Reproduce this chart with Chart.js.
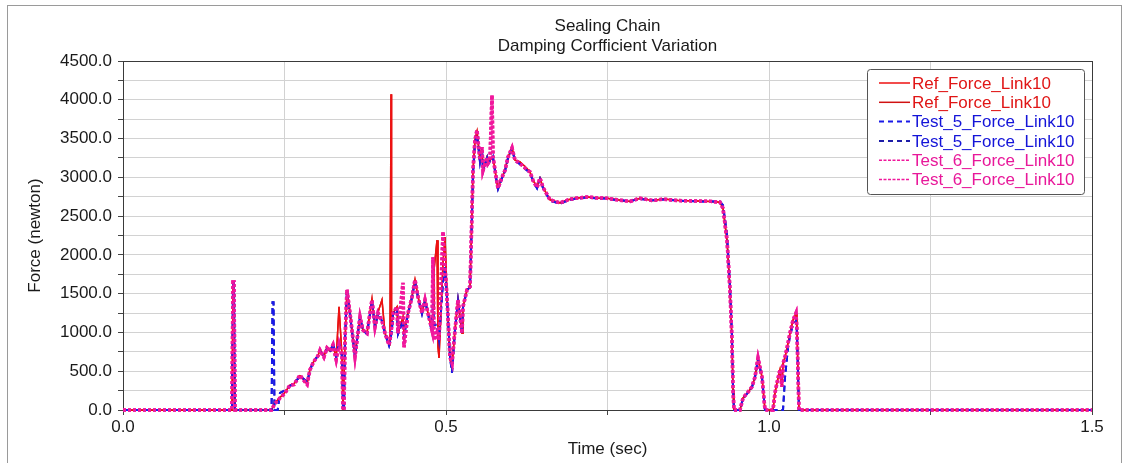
<!DOCTYPE html>
<html>
<head>
<meta charset="utf-8">
<script src="https://cdn.jsdelivr.net/npm/chart.js@4.4.1/dist/chart.umd.min.js"></script>
<style>
  html, body { margin: 0; padding: 0; background: #fff; }
  #caja { position: relative; width: 1130px; height: 463px; }
</style>
</head>
<body>
<div id="caja"><canvas id="grafico"></canvas></div>
<script>
// tiempo (sec) comun a las tres series
const tiempo = [
  0, 0.1687, 0.1703, 0.1718, 0.1734,
  0.2300, 0.2315, 0.2330, 0.2345, 0.2395, 0.2430, 0.2500, 0.2585, 0.2650, 0.2740,
  0.2800, 0.2850, 0.2895, 0.2950, 0.3019, 0.3050, 0.3110, 0.3158, 0.3204, 0.3251,
  0.3300, 0.3344, 0.3390, 0.3406, 0.3421, 0.3437, 0.3467, 0.3514, 0.3591, 0.3669,
  0.3715, 0.3777, 0.3854, 0.3901, 0.3947, 0.4009, 0.4056, 0.4118, 0.4133, 0.4149,
  0.4152, 0.4155, 0.4164, 0.4180, 0.4241, 0.4257, 0.4334, 0.4350, 0.4412, 0.4474,
  0.4520, 0.4567, 0.4628, 0.4675, 0.4721, 0.4783, 0.4799, 0.4814, 0.4861, 0.4876,
  0.4892, 0.4954, 0.4985, 0.5015, 0.5062, 0.5093, 0.5139, 0.5186, 0.5248, 0.5263,
  0.5325, 0.5372, 0.5402, 0.5418, 0.5449, 0.5480, 0.5526, 0.5557, 0.5573, 0.5635,
  0.5650, 0.5681, 0.5712, 0.5728, 0.5789, 0.5805, 0.5867, 0.5913, 0.5960, 0.6022,
  0.6068, 0.6146, 0.6223, 0.6300, 0.6347, 0.6409, 0.6455, 0.6502, 0.6610, 0.6765,
  0.6889, 0.7000, 0.7183, 0.7350, 0.7492, 0.7650, 0.7848, 0.8003, 0.8200, 0.8359,
  0.8600, 0.8885, 0.9100, 0.9241, 0.9288, 0.9350, 0.9396, 0.9427, 0.9443, 0.9458,
  0.9551, 0.9598, 0.9675, 0.9737, 0.9783, 0.9830, 0.9892, 0.9938, 1.0062, 1.0093,
  1.0124, 1.0170, 1.0201, 1.0217, 1.0248, 1.0294, 1.0325, 1.0372, 1.0418, 1.0433, 1.0464, 1.5
];

const fuerzaRef = [
  0, 0, 1640, 1640, 0,
  0, 30, 60, 90, 130, 160, 220, 320, 340, 440,
  390, 340, 530, 620, 700, 780, 690, 810, 760, 850,
  660, 1330, 700, 0, 0, 880, 1540, 1260, 700, 1190,
  1030, 990, 1430, 1060, 1260, 1420, 990, 840, 900, 4070,
  3300, 2480, 1100, 1250, 1330, 990, 1200, 1000, 1260, 1460,
  1680, 1460, 1250, 1420, 1250, 1030, 1300, 1800, 2190, 810,
  670, 1900, 2230, 1460, 650, 560, 1030, 1420, 990, 1330,
  1550, 1590, 2540, 3090, 3480, 3590, 3220, 3390, 3090, 3260,
  3180, 3220, 3250, 3260, 2930, 2860, 3000, 3090, 3260, 3380,
  3220, 3200, 3140, 3070, 2960, 2880, 2990, 2870, 2710, 2670,
  2710, 2730, 2745, 2735, 2730, 2710, 2690, 2730, 2700, 2720,
  2700, 2695, 2690, 2680, 2600, 2190, 1550, 900, 260, 0,
  0, 155, 230, 300, 425, 670, 425, 0, 0, 220,
  350, 520, 300, 600, 680, 860, 990, 1160, 1240, 1030, 0, 0
];

const fuerzaTest5 = [
  0, 0, 1660, 1660, 0,
  0, 1390, 1390, 0, 0, 220, 250, 310, 350, 430,
  400, 360, 510, 640, 690, 760, 700, 790, 740, 860,
  680, 880, 690, 0, 0, 920, 1540, 1230, 690, 1200,
  1030, 980, 1410, 1070, 1240, 1150, 980, 830, 880, 950,
  980, 1000, 1050, 1240, 1300, 980, 1150, 950, 1240, 1450,
  1660, 1450, 1240, 1410, 1240, 1000, 1400, 1100, 1100, 1000,
  900, 1650, 1840, 1450, 680, 480, 1030, 1410, 990, 1320,
  1550, 1580, 2500, 3050, 3440, 3560, 3200, 3370, 3080, 3250,
  3170, 3210, 3200, 3250, 2920, 2850, 2990, 3080, 3250, 3370,
  3210, 3170, 3110, 3060, 2950, 2860, 2980, 2860, 2700, 2660,
  2705, 2725, 2740, 2730, 2725, 2705, 2695, 2720, 2705, 2715,
  2700, 2690, 2690, 2685, 2640, 2260, 1600, 950, 300, 0,
  0, 150, 225, 295, 420, 660, 420, 0, 0, 0,
  0, 0, 0, 0, 420, 800, 960, 1100, 1150, 1000, 0, 0
];

const fuerzaTest6 = [
  0, 0, 1650, 1650, 0,
  0, 20, 50, 80, 120, 155, 210, 320, 330, 450,
  380, 330, 520, 620, 700, 770, 680, 800, 760, 840,
  650, 850, 700, 0, 0, 900, 1550, 1250, 690, 1200,
  1030, 990, 1420, 1070, 1250, 1150, 990, 840, 900, 1000,
  1020, 1050, 1100, 1250, 1330, 990, 1640, 810, 1250, 1460,
  1680, 1460, 1250, 1420, 1250, 1030, 1970, 900, 1000, 950,
  900, 2300, 1840, 1460, 680, 600, 1030, 1420, 990, 1330,
  1550, 1590, 2540, 3090, 3480, 3610, 3220, 3390, 3090, 3260,
  3180, 3220, 4060, 3260, 2930, 2860, 3000, 3090, 3260, 3380,
  3220, 3180, 3120, 3070, 2960, 2870, 2990, 2870, 2710, 2670,
  2710, 2730, 2745, 2735, 2730, 2710, 2690, 2730, 2700, 2720,
  2700, 2695, 2690, 2680, 2600, 2190, 1550, 900, 260, 0,
  0, 155, 230, 300, 425, 670, 425, 0, 0, 220,
  350, 520, 300, 600, 680, 860, 990, 1160, 1250, 1030, 0, 0
];

const nombres = ["Ref_Force_Link10", "Ref_Force_Link10", "Test_5_Force_Link10",
                 "Test_5_Force_Link10", "Test_6_Force_Link10", "Test_6_Force_Link10"];

const FUENTE = "'Liberation Sans', Arial, sans-serif";

function puntos(valores) {
  return tiempo.map((t, i) => ({ x: t, y: valores[i] }));
}

// estilo de cada curva: color, grosor, trazo, color del texto de la leyenda
const estilos = [
  { serie: fuerzaRef,   color: "#ee1111", ancho: 1.5, trazo: [],     orden: 2, leyTrazo: [],     leyAncho: 1.5, texto: "#e01515" },
  { serie: fuerzaRef,   color: "#d01212", ancho: 1.5, trazo: [],     orden: 3, leyTrazo: [],     leyAncho: 1.5, texto: "#e01515" },
  { serie: fuerzaTest5, color: "#1a1ae8", ancho: 2,   trazo: [6, 4], orden: 1, leyTrazo: [5, 4], leyAncho: 2,   texto: "#1414d8" },
  { serie: fuerzaTest5, color: "#1c1ca8", ancho: 2,   trazo: [6, 4], orden: 4, leyTrazo: [5, 4], leyAncho: 2,   texto: "#1414d8" },
  { serie: fuerzaTest6, color: "#f0189c", ancho: 3.5, trazo: [3, 2], orden: 0, leyTrazo: [3, 1.5], leyAncho: 1.5, texto: "#e8189a" },
  { serie: fuerzaTest6, color: "#f0189c", ancho: 3.5, trazo: [3, 2], orden: 5, leyTrazo: [3, 1.5], leyAncho: 1.5, texto: "#e8189a" }
];

// marco exterior + marco del area de trazado
const marco = {
  id: "marco",
  beforeDraw(chart) {
    const ctx = chart.ctx;
    ctx.save();
    ctx.fillStyle = "#fff";
    ctx.fillRect(0, 0, chart.width, chart.height);
    ctx.strokeStyle = "#9a9a9a";
    ctx.lineWidth = 1;
    ctx.strokeRect(7.5, 5.5, 1114, 470);
    ctx.restore();
  },
  beforeDatasetsDraw(chart) {
    const { ctx, chartArea: a } = chart;
    ctx.save();
    ctx.strokeStyle = "#3a3a3a";
    ctx.lineWidth = 1;
    ctx.strokeRect(Math.round(a.left) + 0.5, Math.round(a.top) + 0.5,
                   Math.round(a.right - a.left), Math.round(a.bottom - a.top));
    ctx.restore();
  }
};

const leyenda = {
  id: "leyenda",
  afterDraw(chart) {
    const { ctx, chartArea } = chart;
    const w = 217, h = 125;
    const x0 = Math.round(chartArea.right) - 8 - w;
    const y0 = Math.round(chartArea.top) + 8;
    ctx.save();
    ctx.fillStyle = "#fff";
    ctx.strokeStyle = "#555";
    ctx.lineWidth = 1;
    ctx.beginPath();
    ctx.roundRect(x0 + 0.5, y0 + 0.5, w, h, 3);
    ctx.fill();
    ctx.stroke();
    ctx.font = "17px " + FUENTE;
    ctx.textBaseline = "middle";
    chart.data.datasets.forEach((ds, i) => {
      const e = estilos[i];
      const y = y0 + 14 + i * 19.3;
      ctx.strokeStyle = e.color;
      ctx.lineWidth = e.leyAncho;
      ctx.setLineDash(e.leyTrazo);
      ctx.beginPath();
      ctx.moveTo(x0 + 12, y);
      ctx.lineTo(x0 + 43, y);
      ctx.stroke();
      ctx.setLineDash([]);
      ctx.fillStyle = e.texto;
      ctx.fillText(ds.label, x0 + 45, y + 1);
    });
    ctx.restore();
  }
};

new Chart(document.getElementById("grafico"), {
  type: "line",
  data: {
    datasets: estilos.map((e, i) => ({
      label: nombres[i],
      data: puntos(e.serie),
      borderColor: e.color,
      borderWidth: e.ancho,
      borderDash: e.trazo,
      order: e.orden,
      pointRadius: 0,
      tension: 0,
      fill: false,
      clip: 4
    }))
  },
  options: {
    responsive: true,
    maintainAspectRatio: false,
    animation: false,
    events: [],
    layout: { padding: { left: 23, right: 38, top: 0, bottom: 0 } },
    plugins: {
      legend: { display: false },
      tooltip: { enabled: false },
      title: {
        display: true,
        fullSize: false,
        text: ["Sealing Chain", "Damping Corfficient Variation"],
        color: "#1a1a1a",
        font: { family: FUENTE, size: 17, weight: "normal", lineHeight: 20 / 17 },
        padding: { top: 16, bottom: 5 }
      }
    },
    scales: {
      x: {
        type: "linear",
        min: 0,
        max: 1.5,
        afterFit: s => { s.height = 53; },
        ticks: {
          stepSize: 0.25,
          autoSkip: false,
          maxRotation: 0,
          padding: 2,
          color: "#1a1a1a",
          font: { family: FUENTE, size: 17 },
          callback: v => (Math.round(v * 2) === v * 2 ? v.toFixed(1) : "")
        },
        grid: { color: "#d2d2d2", tickColor: "#444", tickLength: 5 },
        border: { display: false },
        title: {
          display: true,
          text: "Time (sec)",
          color: "#1a1a1a",
          font: { family: FUENTE, size: 17 },
          padding: { top: 0, bottom: 3 }
        }
      },
      y: {
        min: 0,
        max: 4500,
        afterFit: s => { s.width = 100; },
        ticks: {
          stepSize: 250,
          autoSkip: false,
          padding: 6,
          color: "#1a1a1a",
          font: { family: FUENTE, size: 17 },
          callback: v => (v % 500 === 0 ? v.toFixed(1) : "")
        },
        grid: { color: "#d2d2d2", tickColor: "#444", tickLength: 5 },
        border: { display: false },
        title: {
          display: true,
          text: "Force (newton)",
          color: "#1a1a1a",
          font: { family: FUENTE, size: 17 },
          padding: { top: 2, bottom: 0 }
        }
      }
    }
  },
  plugins: [marco, leyenda]
});
</script>
</body>
</html>
